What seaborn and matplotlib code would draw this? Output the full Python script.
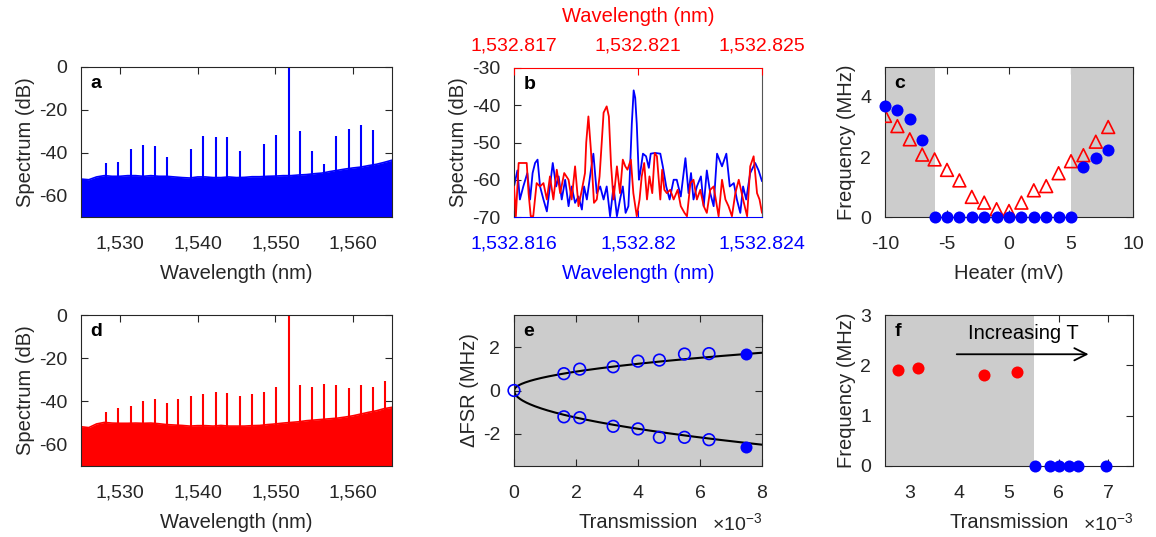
import numpy as np
import matplotlib
matplotlib.use("Agg")
import matplotlib.pyplot as plt
import seaborn as sns
from matplotlib.ticker import FuncFormatter

# ---------------- data ----------------
# Panels a / d: comb spectra (noise floor sampled every 1 nm, plus comb lines)
floor_wl = np.arange(1525, 1566, 1.0)
floor_a_db = [-52.3, -52.6, -51.3, -50.7, -51.0, -51.0, -50.7, -50.7, -51.0, -50.7,
              -51.0, -51.0, -51.3, -51.6, -51.8, -51.3, -51.3, -51.6, -51.6, -51.3,
              -51.6, -51.5, -51.2, -51.2, -51.0, -50.9, -50.7, -50.7, -50.4, -50.2,
              -49.8, -49.5, -48.8, -48.2, -47.6, -47.1, -46.7, -46.0, -45.4, -44.5, -43.5]
floor_d_db = [-51.8, -52.2, -50.5, -49.8, -50.1, -50.2, -50.2, -50.1, -50.2, -50.1,
              -50.4, -50.8, -51.0, -51.2, -51.5, -51.3, -51.3, -51.5, -51.2, -51.5,
              -51.5, -51.5, -51.3, -51.2, -50.8, -50.5, -50.1, -49.8, -49.5, -49.0,
              -48.7, -48.4, -48.1, -47.8, -47.3, -46.7, -45.9, -45.1, -44.4, -43.4, -42.8]

peaks_a_wl = [1528.16, 1529.79, 1531.37, 1532.91, 1534.46, 1536.00, 1539.09, 1540.71,
              1542.30, 1543.84, 1545.39, 1548.50, 1550.13, 1551.69, 1553.23, 1554.73,
              1556.31, 1557.86, 1559.44, 1561.07, 1562.61]
peaks_a_db = [-45.0, -44.1, -38.3, -36.3, -36.9, -42.2, -38.4, -32.2, -32.7, -32.8,
              -39.2, -36.1, -31.7, 0.0, -29.8, -39.1, -45.3, -32.3, -28.9, -27.0, -29.5]

peaks_d_wl = [1528.16, 1529.74, 1531.37, 1532.91, 1534.46, 1536.00, 1537.54, 1539.09,
              1540.71, 1542.30, 1543.84, 1545.39, 1546.93, 1548.50, 1550.09, 1551.69,
              1553.23, 1554.73, 1556.31, 1557.86, 1559.44, 1561.07, 1562.61, 1564.16]
peaks_d_db = [-45.0, -43.1, -42.2, -40.0, -39.1, -40.8, -38.8, -37.4, -36.6, -35.9,
              -36.2, -37.4, -36.5, -35.7, -33.4, 0.0, -32.5, -33.2, -31.8, -32.5,
              -33.8, -32.3, -33.2, -30.4]

# Panel b: high-resolution spectra (offsets in pm from each axis origin)
blue_origin_nm = 1532.816
red_origin_nm = 1532.817
blue_pm = [0.00, 0.11, 0.19, 0.30, 0.43, 0.52, 0.60, 0.68, 0.76, 0.84, 0.95, 1.06, 1.16,
           1.25, 1.36, 1.44, 1.54, 1.65, 1.76, 1.86, 1.97, 2.08, 2.19, 2.26, 2.35, 2.48,
           2.56, 2.67, 2.78, 2.89, 2.99, 3.10, 3.21, 3.32, 3.42, 3.51, 3.60, 3.69, 3.73,
           3.80, 3.86, 3.91, 3.96, 4.03, 4.07, 4.16, 4.26, 4.35, 4.41, 4.55, 4.72, 4.80,
           4.91, 5.02, 5.15, 5.25, 5.38, 5.53, 5.63, 5.71, 5.79, 5.90, 6.03, 6.12, 6.22,
           6.33, 6.44, 6.55, 6.71, 6.85, 6.96, 7.09, 7.19, 7.30, 7.39, 7.49, 7.62, 7.78,
           7.89, 8.00]
blue_db = [-61.8, -57.5, -65.3, -61.8, -58.2, -65.3, -58.2, -55.5, -54.6, -61.8, -65.3,
           -68.5, -61.8, -55.5, -61.8, -59.1, -65.3, -60.0, -67.1, -61.8, -66.2, -64.5,
           -68.0, -61.8, -65.3, -57.5, -53.0, -63.6, -61.8, -65.3, -61.8, -69.8, -61.8,
           -69.8, -65.3, -61.8, -68.9, -67.1, -60.0, -45.0, -36.0, -38.0, -45.0, -60.0,
           -58.2, -53.0, -53.7, -56.8, -53.0, -52.8, -53.0, -56.4, -61.8, -65.3, -60.0,
           -60.0, -64.5, -54.2, -63.6, -58.2, -65.3, -61.8, -59.1, -67.1, -57.5, -63.6,
           -67.1, -53.0, -56.4, -53.0, -61.8, -60.9, -65.3, -68.9, -61.8, -65.3, -58.2,
           -55.5, -57.5, -60.4]
red_pm = [0.00, 0.06, 0.15, 0.30, 0.41, 0.47, 0.54, 0.62, 0.73, 0.84, 0.95, 1.06, 1.16,
          1.27, 1.38, 1.49, 1.62, 1.76, 1.86, 1.97, 2.08, 2.19, 2.29, 2.33, 2.40, 2.48,
          2.58, 2.67, 2.76, 2.83, 2.89, 2.99, 3.06, 3.13, 3.21, 3.32, 3.42, 3.51, 3.59,
          3.66, 3.77, 3.85, 3.96, 4.05, 4.12, 4.20, 4.29, 4.37, 4.46, 4.54, 4.61, 4.72,
          4.78, 4.85, 4.93, 5.04, 5.15, 5.28, 5.38, 5.50, 5.58, 5.69, 5.79, 5.90, 6.01,
          6.12, 6.22, 6.33, 6.44, 6.60, 6.71, 6.82, 6.92, 7.03, 7.14, 7.25, 7.39, 7.52,
          7.62, 7.73, 7.84, 7.92, 8.00]
red_db = [-61.8, -69.8, -55.5, -55.5, -55.5, -63.6, -69.8, -69.8, -60.9, -61.8, -60.9,
          -65.3, -59.1, -65.3, -57.3, -63.6, -58.2, -60.0, -65.3, -56.4, -67.1, -62.7,
          -58.2, -50.0, -43.0, -51.9, -66.2, -65.3, -59.1, -50.0, -42.0, -40.3, -43.0,
          -56.0, -65.3, -56.4, -63.6, -54.6, -56.4, -57.3, -54.6, -63.6, -69.8, -65.3,
          -59.1, -55.5, -65.3, -59.1, -63.6, -52.8, -53.7, -65.3, -57.3, -62.7, -63.6,
          -62.7, -65.3, -62.7, -67.1, -68.9, -69.8, -60.9, -60.0, -65.3, -62.7, -67.1,
          -68.9, -62.7, -61.8, -69.8, -60.0, -65.3, -67.1, -69.8, -63.6, -60.0, -65.3,
          -69.8, -56.4, -53.7, -63.6, -65.3, -68.9]

# Panel c: beat frequency vs heater offset
heater_mv = [-10, -9, -8, -7, -6, -5, -4, -3, -2, -1, 0, 1, 2, 3, 4, 5, 6, 7, 8]
beat_measured = [3.70, 3.56, 3.27, 2.56, 0, 0, 0, 0, 0, 0, 0, 0, 0, 0, 0, 0, 1.67, 1.96, 2.23]
beat_predicted = [3.37, 3.03, 2.59, 2.08, 1.92, 1.57, 1.22, 0.67, 0.48, 0.26, 0.20,
                  0.48, 0.89, 1.03, 1.46, 1.86, 2.06, 2.51, 3.00]
locked_band_c = (-6, 5)

# Panel e: FSR splitting vs transmission (x in units of 1e-3)
trans_e = [0, 1.61, 2.12, 3.20, 4.00, 4.69, 5.50, 6.29]
dfsr_up = [0, 0.78, 0.99, 1.10, 1.36, 1.41, 1.69, 1.71]
dfsr_lo = [0, -1.22, -1.26, -1.66, -1.78, -2.17, -2.17, -2.28]
trans_e_filled = [7.48, 7.48]
dfsr_filled = [1.71, -2.62]
fit_up_coef = 0.619
fit_lo_coef = -0.888

# Panel f: beat frequency vs transmission (x in units of 1e-3)
trans_f_unlocked = [2.77, 3.16, 4.49, 5.16]
freq_f_unlocked = [1.90, 1.94, 1.80, 1.86]
trans_f_locked = [5.53, 5.82, 6.00, 6.20, 6.39, 6.95]
freq_f_locked = [0, 0, 0, 0, 0, 0]
unlocked_edge_f = 5.5

# ---------------- style ----------------
BLUE = "#0000ff"
RED = "#ff0000"
SHADE = "#cccccc"
INK = "#262626"
TICK_FS = 14
LABEL_FS = 14.5
XPAD = 13.5
YPAD = 10

sns.set_style("ticks")
plt.rcParams["font.family"] = ["Liberation Sans", "DejaVu Sans"]
plt.rcParams["font.size"] = 14
plt.rcParams["axes.unicode_minus"] = False
plt.rcParams["mathtext.fontset"] = "custom"
plt.rcParams["mathtext.rm"] = "Liberation Sans"
plt.rcParams["mathtext.default"] = "regular"
plt.rcParams["text.color"] = INK
plt.rcParams["axes.labelcolor"] = INK
plt.rcParams["axes.labelsize"] = LABEL_FS

W, H = 1156, 537
fig = plt.figure(figsize=(W / 100, H / 100), dpi=100)


def box(l, t, r, b):
    return [l / W, 1 - b / H, (r - l) / W, (b - t) / H]


def style(ax, top=True, right=True):
    ax.tick_params(direction="in", top=top, right=right, length=5, width=0.8,
                   colors=INK, labelsize=TICK_FS)
    ax.tick_params(axis="x", pad=XPAD)
    ax.tick_params(axis="y", pad=YPAD)
    for s in ax.spines.values():
        s.set_color(INK)
        s.set_linewidth(0.8)


def tag(ax, letter):
    ax.annotate(letter, (0, 1), xycoords="axes fraction", xytext=(7, -12),
                textcoords="offset points", fontweight="bold", fontsize=14,
                ha="left", va="center", color="black")


def comma_fmt(v, pos=None):
    return f"{v:,.3f}".rstrip("0").rstrip(".")


def power_note(ax):
    ax.text(1.0, -0.377, "\u00d710$^{-3}$", transform=ax.transAxes, ha="right",
            va="center", fontsize=14)


# ---- a and d: broadband spectra ----
for rect, floor, pw, pd_, col, letter in [
        (box(81, 67, 392, 217), floor_a_db, peaks_a_wl, peaks_a_db, BLUE, "a"),
        (box(81, 315, 392, 466), floor_d_db, peaks_d_wl, peaks_d_db, RED, "d")]:
    ax = fig.add_axes(rect)
    ax.fill_between(floor_wl, -70, floor, color=col, lw=0)
    sns.lineplot(x=floor_wl, y=floor, color=col, lw=1.2, ax=ax)
    ax.vlines(pw, -70, pd_, color=col, lw=1.5)
    ax.set_xlim(1525, 1565)
    ax.set_ylim(-70, 0)
    ax.set_xticks([1530, 1540, 1550, 1560])
    ax.set_yticks([-60, -40, -20, 0])
    ax.xaxis.set_major_formatter(FuncFormatter(comma_fmt))
    ax.set_xlabel("Wavelength (nm)", labelpad=8)
    ax.set_ylabel("Spectrum (dB)", labelpad=3)
    style(ax)
    tag(ax, letter)

# ---- b: zoom on one comb line, two x axes ----
axb = fig.add_axes(box(514, 68, 762, 217))
axr = axb.twiny()
sns.lineplot(x=blue_origin_nm + np.array(blue_pm) * 1e-3, y=blue_db, color=BLUE,
             lw=1.3, sort=False, ax=axb)
sns.lineplot(x=red_origin_nm + np.array(red_pm) * 1e-3, y=red_db, color=RED,
             lw=1.3, sort=False, ax=axr)
axb.set_xlim(1532.816, 1532.824)
axr.set_xlim(1532.817, 1532.825)
axb.set_ylim(-70, -30)
axb.set_yticks([-70, -60, -50, -40, -30])
axb.set_xticks([1532.816, 1532.820, 1532.824])
axr.set_xticks([1532.817, 1532.821, 1532.825])
axb.xaxis.set_major_formatter(FuncFormatter(comma_fmt))
axr.xaxis.set_major_formatter(FuncFormatter(comma_fmt))
axb.tick_params(axis="y", direction="in", left=True, right=False, length=5,
                colors=INK, labelsize=TICK_FS, pad=YPAD)
axb.tick_params(axis="x", direction="in", bottom=True, top=False, length=5,
                colors=BLUE, labelsize=TICK_FS, pad=XPAD)
axr.tick_params(axis="x", direction="in", top=True, bottom=False, length=5,
                colors=RED, labelsize=TICK_FS, pad=10)
axb.set_xlabel("Wavelength (nm)", color=BLUE, labelpad=8)
axr.set_xlabel("Wavelength (nm)", color=RED, labelpad=11)
axb.set_ylabel("Spectrum (dB)", labelpad=3)
for name, s in axr.spines.items():
    s.set_visible(name == "top")
axr.spines["top"].set_color(RED)
axr.spines["top"].set_linewidth(0.8)
axb.spines["top"].set_visible(False)
axb.spines["bottom"].set_color(BLUE)
axb.spines["left"].set_color(INK)
axb.spines["right"].set_color("#555555")
for s in axb.spines.values():
    s.set_linewidth(0.8)
tag(axr, "b")

# ---- c: beat frequency vs heater ----
axc = fig.add_axes(box(885, 67, 1133, 217))
axc.axvspan(-10, locked_band_c[0], color=SHADE, lw=0)
axc.axvspan(locked_band_c[1], 10, color=SHADE, lw=0)
sns.scatterplot(x=heater_mv, y=beat_predicted, marker="^", s=85, facecolors="none",
                edgecolor=RED, linewidth=1.2, ax=axc, zorder=3)
sns.scatterplot(x=heater_mv, y=beat_measured, marker="o", s=75, color=BLUE,
                linewidth=0, ax=axc, zorder=4, clip_on=False)
axc.set_xlim(-10, 10)
axc.set_ylim(0, 5)
axc.set_xticks([-10, -5, 0, 5, 10])
axc.set_yticks([0, 2, 4])
axc.set_xlabel("Heater (mV)", labelpad=8)
axc.set_ylabel("Frequency (MHz)", labelpad=3)
style(axc)
tag(axc, "c")

# ---- e: FSR splitting ----
axe = fig.add_axes(box(514, 315, 762, 466))
axe.set_facecolor(SHADE)
xfit = np.linspace(0, 8, 200)
sns.lineplot(x=xfit, y=fit_up_coef * np.sqrt(xfit), color="black", lw=1.5, ax=axe)
sns.lineplot(x=xfit, y=fit_lo_coef * np.sqrt(xfit), color="black", lw=1.5, ax=axe)
sns.scatterplot(x=trans_e + trans_e[1:], y=dfsr_up + dfsr_lo[1:], marker="o", s=70,
                facecolors="none", edgecolor=BLUE, linewidth=1.2, ax=axe, zorder=3,
                clip_on=False)
sns.scatterplot(x=trans_e_filled, y=dfsr_filled, marker="o", s=75, color=BLUE,
                linewidth=0, ax=axe, zorder=4)
axe.set_xlim(0, 8)
axe.set_ylim(-3.5, 3.5)
axe.set_xticks([0, 2, 4, 6, 8])
axe.set_yticks([-2, 0, 2])
axe.set_xlabel("Transmission", labelpad=8)
axe.set_ylabel("\u0394FSR (MHz)", labelpad=3)
power_note(axe)
style(axe)
tag(axe, "e")

# ---- f: beat frequency vs transmission ----
axf = fig.add_axes(box(885, 315, 1133, 466))
axf.axvspan(2.5, unlocked_edge_f, color=SHADE, lw=0)
sns.scatterplot(x=trans_f_unlocked, y=freq_f_unlocked, marker="o", s=75, color=RED,
                linewidth=0, ax=axf, zorder=3)
sns.scatterplot(x=trans_f_locked, y=freq_f_locked, marker="o", s=75, color=BLUE,
                linewidth=0, ax=axf, zorder=4, clip_on=False)
axf.annotate("", xy=(6.66, 2.22), xytext=(3.89, 2.22),
             arrowprops=dict(arrowstyle="->", color="black", lw=1.3,
                             mutation_scale=22))
axf.text(5.28, 2.63, "Increasing T", ha="center", va="center", fontsize=14.5,
         color="black")
axf.set_xlim(2.5, 7.5)
axf.set_ylim(0, 3)
axf.set_xticks([3, 4, 5, 6, 7])
axf.set_yticks([0, 1, 2, 3])
axf.set_xlabel("Transmission", labelpad=8)
axf.set_ylabel("Frequency (MHz)", labelpad=3)
power_note(axf)
style(axf)
tag(axf, "f")

fig.savefig("out.png", dpi=100)
